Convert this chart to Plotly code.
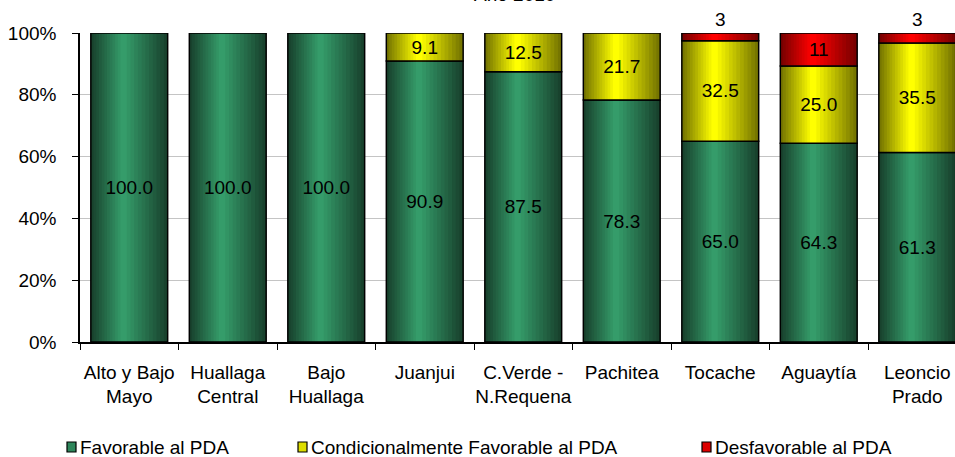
import plotly.graph_objects as go

categories = ["Alto y Bajo<br>Mayo", "Huallaga<br>Central", "Bajo<br>Huallaga", "Juanjui",
              "C.Verde -<br>N.Requena", "Pachitea", "Tocache", "Aguaytía", "Leoncio<br>Prado"]
favorable = [100.0, 100.0, 100.0, 90.9, 87.5, 78.3, 65.0, 64.3, 61.3]
condicional = [0, 0, 0, 9.1, 12.5, 21.7, 32.5, 25.0, 35.5]
desfavorable = [0, 0, 0, 0, 0, 0, 2.5, 10.7, 3.2]
series_names = ["Favorable al PDA", "Condicionalmente Favorable al PDA", "Desfavorable al PDA"]
y_ticks = [0, 20, 40, 60, 80, 100]
title_text = "Año 2010"

FONT = "Arial, Liberation Sans, sans-serif"
FS = 19
W = 0.78
N = 12
C = 0.42
styles = [
    ((24, 66, 45), (53, 156, 106), lambda v: f"{v:.1f}"),
    ((118, 118, 0), (255, 255, 0), lambda v: f"{v:.1f}"),
    ((120, 0, 0), (255, 0, 0), lambda v: str(int(v + 0.5))),
]

fig = go.Figure()
series = [favorable, condicional, desfavorable]
base = [0.0] * len(categories)
for vals, (dark, light, fmt), name in zip(series, styles, series_names):
    ys = [v if v > 0 else None for v in vals]
    for k in range(N):
        frac = k / N
        t = k / (N - 1)
        col = tuple(round(d + (l - d) * t) for d, l in zip(dark, light))
        left = C * frac
        fig.add_trace(go.Bar(
            x=categories, y=ys, base=base, width=(1 - frac) * W, offset=-W / 2 + left * W,
            marker=dict(color=f"rgb{col}", line=dict(width=0)),
            showlegend=False, hoverinfo="skip", name=name))
    texts = [fmt(v) if v > 0 else "" for v in vals]
    pos = ["inside" if v >= 5 else "outside" for v in vals]
    fig.add_trace(go.Bar(
        x=categories, y=ys, base=base, width=W, offset=-W / 2,
        marker=dict(color="rgba(0,0,0,0)", line=dict(color="black", width=1.5)),
        text=texts, textposition=pos, insidetextanchor="middle", constraintext="none",
        textfont=dict(color="black", size=FS, family=FONT), cliponaxis=False,
        showlegend=False, name=name))
    base = [b + v for b, v in zip(base, vals)]

L, T, PW, PH = 80, 33, 875, 309

def px_x(p):
    return (p - L) / PW

def px_y(p):
    return (T + PH - p) / PH

shapes = []
annotations = []
leg_x = [67, 298, 702]
for (dark, light, _), name, lx in zip(styles, series_names, leg_x):
    mid = tuple(round(d + (l - d) * 0.75) for d, l in zip(dark, light))
    shapes.append(dict(type="rect", xref="paper", yref="paper",
                       x0=px_x(lx), x1=px_x(lx + 9), y0=px_y(452), y1=px_y(442),
                       fillcolor=f"rgb{mid}", line=dict(color="black", width=1.2)))
    annotations.append(dict(text=name, xref="paper", yref="paper", x=px_x(lx + 11), y=px_y(447),
                            xanchor="left", yanchor="middle", showarrow=False,
                            font=dict(size=FS, color="black", family=FONT)))
annotations.append(dict(text=title_text, xref="paper", yref="paper", x=px_x(514), y=px_y(-5),
                        xanchor="center", yanchor="middle", showarrow=False,
                        font=dict(size=FS, color="black", family=FONT)))

fig.update_layout(
    width=955, height=457, autosize=False,
    margin=dict(l=L, r=0, t=T, b=457 - T - PH, pad=0, autoexpand=False),
    barmode="overlay", plot_bgcolor="white", paper_bgcolor="white",
    font=dict(family=FONT, size=FS, color="black"),
    showlegend=False, shapes=shapes, annotations=annotations,
    xaxis=dict(type="category", categoryorder="array", categoryarray=categories,
               range=[-0.5, -0.5 + PW / 98.5], tickson="boundaries", ticks="outside",
               ticklen=6, tickwidth=1.2, tickcolor="black", showline=True, linecolor="black",
               linewidth=1.5, showgrid=False, ticklabelstandoff=12, tickangle=0,
               automargin=False,
               tickfont=dict(size=FS, family=FONT, color="black")),
    yaxis=dict(range=[0, 100], tickvals=y_ticks, ticktext=[f"{v}%" for v in y_ticks],
               ticks="outside", ticklen=6, tickwidth=1.2, tickcolor="black", showline=True,
               linecolor="black", linewidth=1.5, showgrid=True, gridcolor="#c4c4c4",
               gridwidth=1, zeroline=False, ticklabelstandoff=12, automargin=False,
               tickfont=dict(size=FS, family=FONT, color="black")),
)
fig.write_html("out.html", config={"displayModeBar": False},
               post_script="document.body.style.margin='0px';document.body.style.overflow='hidden';")
